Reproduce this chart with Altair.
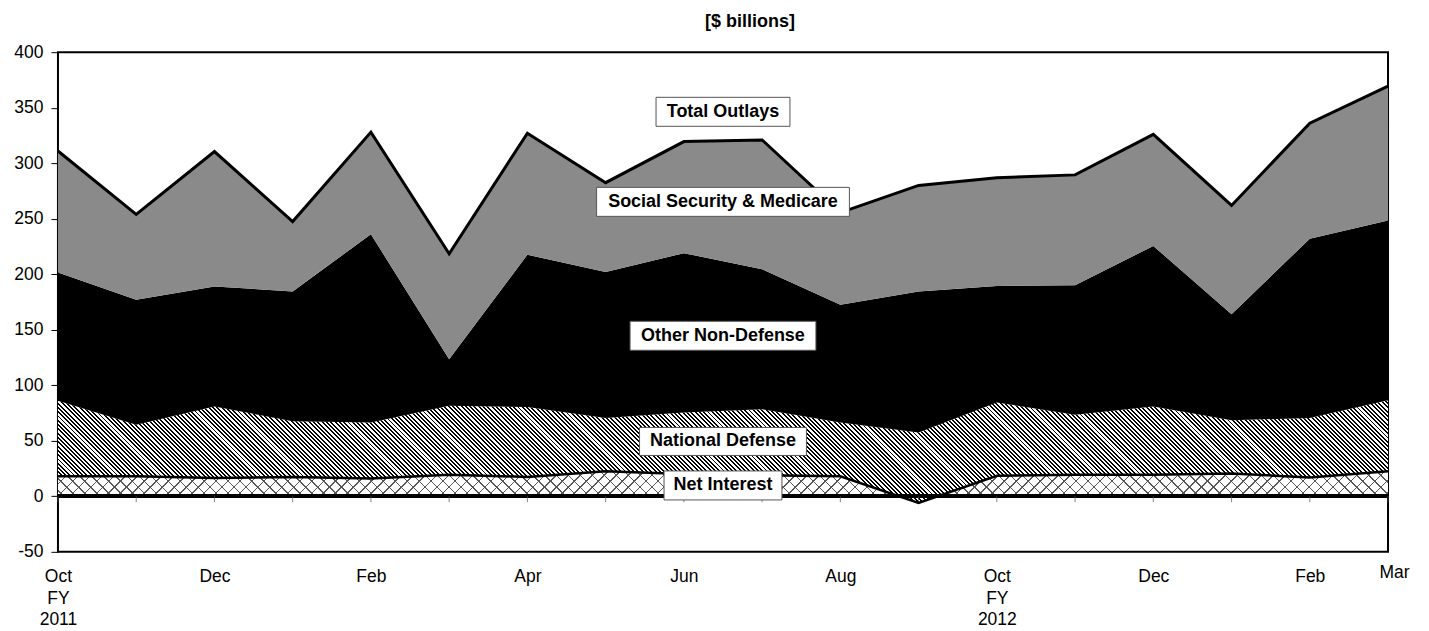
import altair as alt
import pandas as pd

# ---------------- data ----------------
months = ["Oct", "Nov", "Dec", "Jan", "Feb", "Mar", "Apr", "May", "Jun",
          "Jul", "Aug", "Sep", "Oct", "Nov", "Dec", "Jan", "Feb", "Mar"]
net_interest = [18, 18, 16.5, 17.5, 16, 19.5, 17.5, 22.5, 20, 19, 18, -6,
                18.5, 19.5, 19.5, 20.5, 17, 22.5]
national_defense = [68, 46.5, 64.5, 50, 50.5, 62, 63, 48, 55.5, 59.5, 48.5, 63.5,
                    66, 54, 61.5, 48, 53.5, 64]
other_non_defense = [115.5, 112.5, 108, 117, 169.5, 42, 137, 131.5, 143.5, 126, 106, 127,
                     105, 116.5, 144.5, 95.5, 161.5, 162]
ss_medicare = [109.5, 77, 121.5, 63, 92, 95, 109.5, 80.5, 100.5, 116.5, 83, 95.5,
               97.5, 99.5, 100.5, 98, 104, 121]

axis_label_idx = [0, 2, 4, 6, 8, 10, 12, 14, 16, 17]
axis_label_text = ["Oct|FY|2011", "Dec", "Feb", "Apr", "Jun", "Aug",
                   "Oct|FY|2012", "Dec", "Feb", "Mar"]

series_names = ["Net Interest", "National Defense", "Other Non-Defense",
                "Social Security & Medicare", "Total Outlays"]
label_x = [8.5, 8.5, 8.5, 8.5, 8.5]
label_y = [9.8, 49.4, 144.6, 265.2, 346.3]

# ---------------- derived table ----------------
idx = list(range(len(months)))
rows = []
for i in idx:
    t1 = net_interest[i]
    t2 = t1 + national_defense[i]
    t3 = t2 + other_non_defense[i]
    t4 = t3 + ss_medicare[i]
    rows.append(dict(i=i, month=months[i], ni=t1, nd=t2, ond=t3, tot=t4))
df = pd.DataFrame(rows)

FONT = "Liberation Sans"
W, H = 1331, 500
YMIN, YMAX = -50, 400
PX_PER_UNIT = H / (YMAX - YMIN)

xscale = alt.Scale(domain=[0, 17], nice=False, zero=False)
yscale = alt.Scale(domain=[YMIN, YMAX], nice=False)

label_expr = ""
for k, t in zip(axis_label_idx, axis_label_text):
    label_expr += f"datum.value == {k} ? split('{t}', '|') : "
label_expr += "''"

xaxis = alt.Axis(values=axis_label_idx, labelExpr=label_expr, ticks=False, domain=False,
                 grid=False, title=None, labelFont=FONT, labelFontSize=17.5,
                 labelColor="black",
                 labelPadding={"condition": {"test": "datum.value == 17", "value": 12}, "value": 16},
                 labelOffset={"condition": {"test": "datum.value == 17", "value": 6}, "value": 0},
                 labelLineHeight=21.5,
                 labelAngle=0, labelFlush=False, labelOverlap=False, labelBound=False)
yaxis = alt.Axis(values=list(range(YMIN, YMAX + 1, 50)), tickSize=7, tickColor="black",
                 tickWidth=1, domain=False, grid=False, title=None, labelFont=FONT,
                 labelExpr="'' + datum.value",
                 labelFontSize=17.5, labelColor="black", labelPadding=8)


def stripes(w_px, h_px, period_px, frac, c_line, c_gap, direction):
    """Linear gradient with hard stops that draws 45-degree hatching."""
    r = h_px / w_px
    s = (1 + r) / (1 + r * r)
    if direction == "down":      # lines running from upper-left to lower-right
        x1, y1, x2, y2 = 0, 1, s, 1 - s * r
    else:                         # lines running from lower-left to upper-right
        x1, y1, x2, y2 = 0, 0, s, s * r
    n = max(1, int(round((w_px + h_px) / period_px)))
    stops = []
    for k in range(n):
        a = k / n
        b = (k + frac) / n
        c = (k + 1) / n
        stops += [{"offset": a, "color": c_line}, {"offset": b, "color": c_line},
                  {"offset": b, "color": c_gap}, {"offset": c, "color": c_gap}]
    return {"gradient": "linear", "x1": x1, "y1": y1, "x2": x2, "y2": y2, "stops": stops}


base = alt.Chart(df)


def band(top, bottom, color):
    y2 = alt.Y2(bottom) if bottom else alt.Y2(datum=0)
    return base.mark_area(color=color, opacity=1, interpolate="linear").encode(
        x=alt.X("i:Q", scale=xscale, axis=xaxis),
        y=alt.Y(f"{top}:Q", scale=yscale, axis=yaxis, stack=None),
        y2=y2,
    )


# pixel extents of the hatched bands (needed to orient the hatching)
nd_h = (df["nd"].max() - df["ni"].min()) * PX_PER_UNIT
ni_h = (max(df["ni"].max(), 0) - min(df["ni"].min(), 0)) * PX_PER_UNIT

nd_fill = stripes(W, nd_h, 4.3, 0.45, "#000000", "#ffffff", "down")
ni_a = stripes(W, ni_h, 12, 0.12, "#555555", "rgba(255,255,255,0)", "down")
ni_b = stripes(W, ni_h, 12, 0.12, "#555555", "rgba(255,255,255,0)", "up")

a_ni0 = band("ni", None, "#ffffff")
a_ni1 = band("ni", None, ni_a)
a_ni2 = band("ni", None, ni_b)
a_nd = band("nd", "ni", nd_fill)
a_ond = band("ond", "nd", "#000000")
a_ssm = band("tot", "ond", "#8a8a8a")

zero = alt.Chart(df).mark_rule(color="black", strokeWidth=3).encode(y=alt.datum(0))
ticks = base.mark_tick(orient="vertical", size=6, thickness=1, color="#555", yOffset=3).encode(
    x=alt.X("i:Q", scale=xscale), y=alt.datum(0))
ni_line = base.mark_line(color="black", strokeWidth=2.5).encode(
    x=alt.X("i:Q", scale=xscale), y=alt.Y("ni:Q", scale=yscale))
tot_line = base.mark_line(color="black", strokeWidth=3).encode(
    x=alt.X("i:Q", scale=xscale), y=alt.Y("tot:Q", scale=yscale))

box_w = [118, 167, 186, 253, 134]
box_h = [29, 28, 29, 29, 29]
layers = [a_ni0, a_ni1, a_ni2, a_nd, a_ond, a_ssm, zero, ticks, ni_line, tot_line]
for name, lx, ly, bw, bh in zip(series_names, label_x, label_y, box_w, box_h):
    d = pd.DataFrame([dict(name=name, x=lx, y=ly)])
    box = alt.Chart(d).mark_rect(width=bw, height=bh, fill="white", stroke="#555",
                                 strokeWidth=1).encode(
        x=alt.X("x:Q", scale=xscale), y=alt.Y("y:Q", scale=yscale))
    txt = alt.Chart(d).mark_text(font=FONT, fontSize=18, fontWeight="bold",
                                 color="black", align="center", baseline="middle").encode(
        x=alt.X("x:Q", scale=xscale), y=alt.Y("y:Q", scale=yscale), text="name:N")
    layers += [box, txt]

chart = alt.layer(*layers).properties(
    width=W, height=H,
    title=alt.TitleParams("[$ billions]", font=FONT, fontSize=18, fontWeight="bold",
                          color="black", anchor="middle", dx=27, offset=12),
    autosize=alt.AutoSizeParams(type="none"),
    padding={"left": 50, "top": 44, "right": 33, "bottom": 76},
).configure(background="white").configure_view(stroke="black", strokeWidth=2)

chart.save("out.html", embed_options={"renderer": "svg", "actions": False})
